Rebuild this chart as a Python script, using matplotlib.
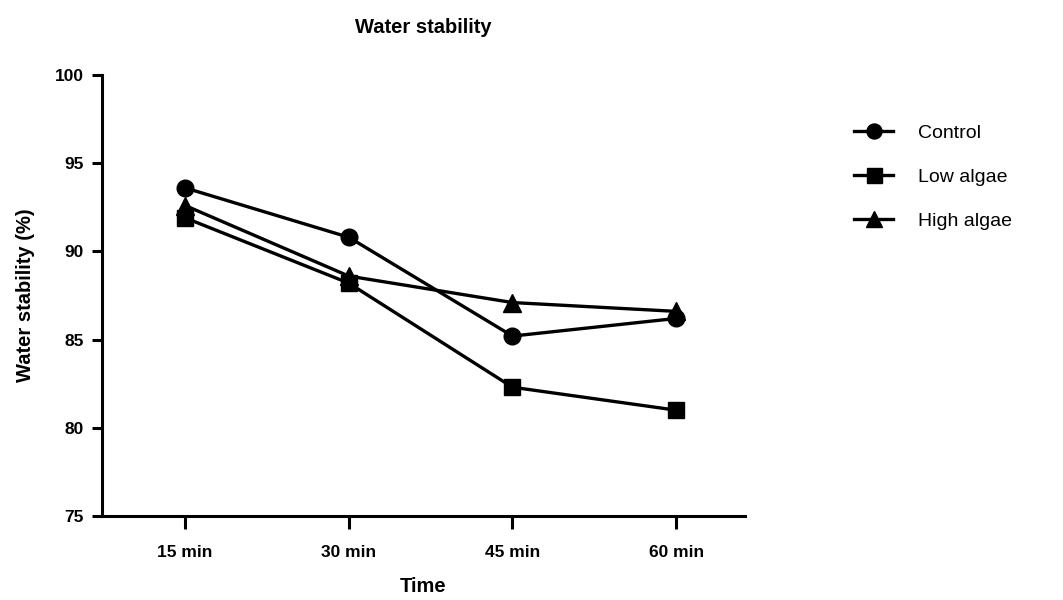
import matplotlib.pyplot as plt

plt.rcParams['font.family'] = ['Liberation Sans', 'DejaVu Sans']

# data
times = ['15 min', '30 min', '45 min', '60 min']
control = [93.6, 90.8, 85.2, 86.2]
low_algae = [91.9, 88.2, 82.3, 81.0]
high_algae = [92.6, 88.6, 87.1, 86.6]

series = [
    ('Control', control, 'o'),
    ('Low algae', low_algae, 's'),
    ('High algae', high_algae, '^'),
]

fig = plt.figure(figsize=(10.63, 6), dpi=100)
ax = fig.add_axes([0.0957, 0.14, 0.605, 0.735])

x = range(len(times))
for name, vals, mk in series:
    ax.plot(x, vals, color='black', lw=2.4, marker=mk, ms=12 if mk != '^' else 13,
            label=name, clip_on=False)

ax.set_xlim(-0.51, 3.42)
ax.set_ylim(75, 100)
ax.set_yticks([75, 80, 85, 90, 95, 100])
ax.set_xticks(list(x))
ax.set_xticklabels(times)

for s in ['top', 'right']:
    ax.spines[s].set_visible(False)
for s in ['left', 'bottom']:
    ax.spines[s].set_linewidth(2.2)

ax.tick_params(axis='both', width=2.2, length=7, labelsize=12.5, pad=6)
ax.tick_params(axis='x', length=9, pad=12)
for lab in ax.get_xticklabels() + ax.get_yticklabels():
    lab.set_fontweight('bold')

ax.set_title('Water stability', fontsize=14.5, fontweight='bold', pad=30)
ax.set_xlabel('Time', fontsize=14.5, fontweight='bold', labelpad=12)
ax.set_ylabel('Water stability (%)', fontsize=14.5, fontweight='bold', labelpad=14)

ax.legend(loc='upper left', bbox_to_anchor=(0.787, 0.822), bbox_transform=fig.transFigure,
          frameon=False, fontsize=14, handlelength=2.0, handletextpad=1.3,
          labelspacing=1.35, markerscale=0.9)

fig.savefig('out.png', dpi=100)
